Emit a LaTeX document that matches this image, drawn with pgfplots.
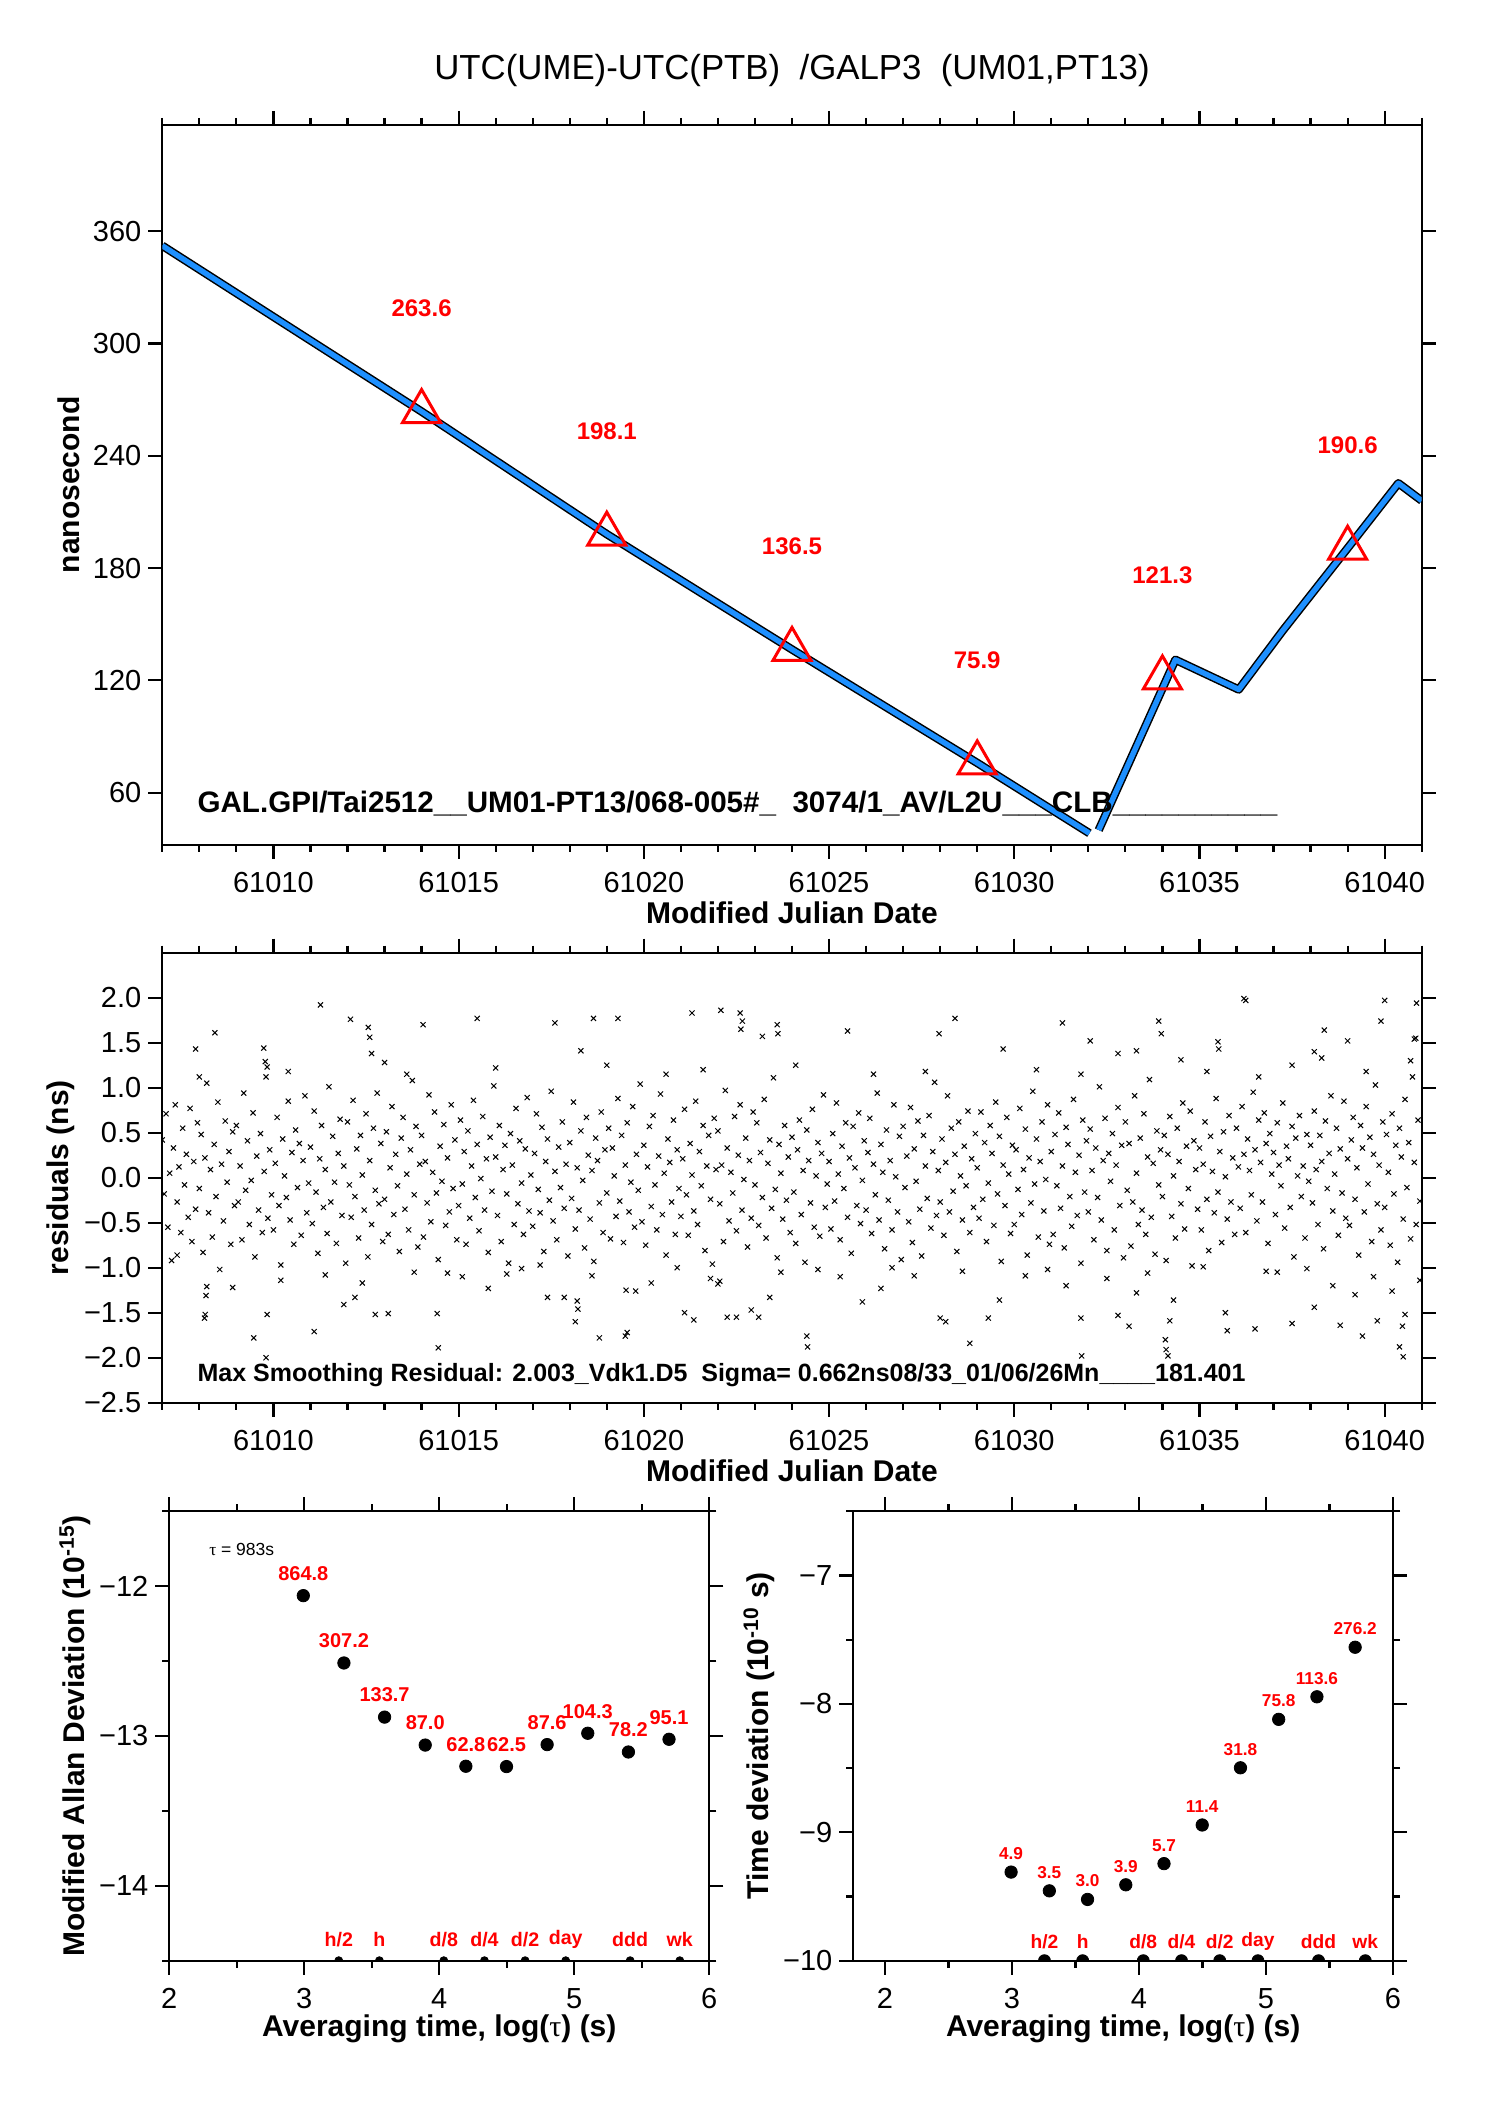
\documentclass[border=0pt]{standalone}
\usepackage{fontspec}
\setmainfont{Liberation Sans}
\newfontfamily\symfont{Liberation Serif}
\usepackage{pgfplots}
\pgfplotsset{compat=1.18}

\definecolor{fitblue}{RGB}{30,144,255}
\definecolor{lblred}{RGB}{255,0,0}

\tikzset{redlbl/.style={lblred, font=\bfseries\fontsize{#1}{#1}\selectfont, anchor=center}}

\pgfplotsset{
  panel/.style={
    scale only axis,
    axis line style={line width=1bp},
    tick align=outside,
    major tick length=7bp,
    minor tick length=3.5bp,
    every tick/.append style={line width=1.1bp, black},
    xticklabel pos=lower,
    yticklabel pos=left,
    scaled ticks=false,
    clip marker paths=true,
    tick label style={font=\fontsize{14.5bp}{17bp}\selectfont},
    xticklabel style={yshift=-3.5bp},
    label style={font=\bfseries\fontsize{15bp}{18bp}\selectfont},
    xlabel style={at={(axis description cs:0.5,0)}, anchor=center, yshift=-34bp},
  },
}

\begin{document}
\begin{tikzpicture}
\path[use as bounding box] (0,0) rectangle (744bp,1052.5bp);

\node[anchor=base, font=\fontsize{17.4bp}{20bp}\selectfont] at (396bp,1012.5bp)
  {UTC(UME)-UTC(PTB)\ \ /GALP3\ \ (UM01,PT13)};

% ---- top: time difference
\begin{axis}[panel,
  at={(81.15bp,630.15bp)}, anchor=south west,
  width=629.7bp, height=359.85bp,
  xmin=61007, xmax=61041, ymin=32.2, ymax=416.7,
  xtick={61010,61015,61020,61025,61030,61035,61040},
  xticklabels={61010,61015,61020,61025,61030,61035,61040},
  minor xtick={61007,61008,61009,61011,61012,61013,61014,61016,61017,61018,61019,61021,61022,61023,61024,61026,61027,61028,61029,61031,61032,61033,61034,61036,61037,61038,61039,61041},
  ytick={60,120,180,240,300,360},
  yticklabels={60,120,180,240,300,360},
  xlabel={Modified Julian Date},
  ylabel={nanosecond},
  ylabel style={at={(axis description cs:-0.0746,0.5)}, anchor=center},
]
\addplot[black, line width=4.2bp, line join=round] coordinates {
  (61007,352.2) (61014,263.6) (61019,198.1) (61024,136.5) (61029,75.9) (61032.03,38.3)};
\addplot[black, line width=4.2bp, line join=round] coordinates {
  (61032.28,40.0) (61034.35,131.0) (61036.06,115.1) (61037.25,146.6) (61039,190.6)
  (61040.37,225.3) (61041,216.0)};
\addplot[fitblue, line width=2.7bp, line join=round] coordinates {
  (61007,352.2) (61014,263.6) (61019,198.1) (61024,136.5) (61029,75.9) (61032.03,38.3)};
\addplot[fitblue, line width=2.7bp, line join=round] coordinates {
  (61032.28,40.0) (61034.35,131.0) (61036.06,115.1) (61037.25,146.6) (61039,190.6)
  (61040.37,225.3) (61041,216.0)};
\addplot[only marks, mark=triangle, mark size=11bp,
  mark options={draw=lblred, line width=1.5bp},
  nodes near coords, point meta=explicit symbolic,
  every node near coord/.append style={redlbl=12bp, yshift=51.5bp}]
  table[meta=lab] {
x y lab
61014 263.6 263.6
61019 198.1 198.1
61024 136.5 136.5
61029 75.9 75.9
61034 121.3 121.3
61039 190.6 190.6
};
\node[anchor=base west, font=\bfseries\fontsize{14.8bp}{17bp}\selectfont] at (rel axis cs:0.0224,0.0449)
  {GAL.GPI/Tai2512\_\_UM01-PT13/068-005\#\_\ \ 3074/1\_AV/L2U\_\_\_CLB\_\_\_\_\_\_\_\_\_\_};
\end{axis}

% ---- middle: residuals
\begin{axis}[panel,
  at={(81.15bp,351.15bp)}, anchor=south west,
  width=629.7bp, height=225bp,
  xmin=61007, xmax=61041, ymin=-2.5, ymax=2.5,
  xtick={61010,61015,61020,61025,61030,61035,61040},
  xticklabels={61010,61015,61020,61025,61030,61035,61040},
  minor xtick={61007,61008,61009,61011,61012,61013,61014,61016,61017,61018,61019,61021,61022,61023,61024,61026,61027,61028,61029,61031,61032,61033,61034,61036,61037,61038,61039,61041},
  ytick={-2.5,-2,-1.5,-1,-0.5,0,0.5,1,1.5,2},
  yticklabels={−2.5,−2.0,−1.5,−1.0,−0.5,0.0,0.5,1.0,1.5,2.0},
  xlabel={Modified Julian Date},
  ylabel={residuals (ns)},
  ylabel style={at={(axis description cs:-0.081,0.5)}, anchor=center},
]
\addplot[only marks, mark=x, mark size=1.8bp, mark options={line width=0.5bp}] table {
x y
61007.00 0.42
61007.05 -0.18
61007.10 0.71
61007.15 -0.55
61007.20 0.05
61007.25 -0.92
61007.30 0.33
61007.35 0.81
61007.40 -0.27
61007.45 0.12
61007.50 -0.61
61007.55 0.55
61007.60 -0.08
61007.65 0.26
61007.70 -0.44
61007.75 0.77
61007.80 -0.71
61007.85 0.18
61007.90 -0.35
61007.95 0.61
61008.00 -0.12
61008.05 0.48
61008.10 -0.83
61008.15 0.22
61008.20 1.05
61008.25 -0.39
61008.30 0.09
61008.35 -0.66
61008.40 0.37
61008.45 -0.21
61008.50 0.84
61008.55 -1.02
61008.60 0.15
61008.65 -0.48
61008.70 0.63
61008.75 -0.05
61008.80 0.29
61008.85 -0.74
61008.90 0.51
61008.95 -0.31
61009.00 0.58
61009.05 -0.27
61009.10 0.13
61009.15 -0.69
61009.20 0.94
61009.25 -0.14
61009.30 0.41
61009.35 -0.52
61009.40 -0.03
61009.45 0.72
61009.50 -0.88
61009.55 0.24
61009.60 -0.36
61009.65 0.49
61009.70 -0.61
61009.75 0.07
61009.80 1.12
61009.85 -0.45
61009.90 0.31
61009.95 -0.19
61010.00 -0.58
61010.05 0.16
61010.10 0.67
61010.15 -0.31
61010.20 -0.97
61010.25 0.43
61010.30 0.02
61010.35 -0.22
61010.40 0.85
61010.45 -0.47
61010.50 0.28
61010.55 -0.74
61010.60 0.53
61010.65 -0.11
61010.70 0.38
61010.75 -0.64
61010.80 0.19
61010.85 0.91
61010.90 -0.39
61010.95 -0.06
61011.00 0.34
61011.05 -0.51
61011.10 0.74
61011.15 -0.16
61011.20 -0.84
61011.25 0.21
61011.30 0.58
61011.35 -0.33
61011.40 0.09
61011.45 -0.62
61011.50 1.01
61011.55 -0.27
61011.60 0.46
61011.65 -0.05
61011.70 -0.73
61011.75 0.27
61011.80 0.65
61011.85 -0.42
61011.90 0.13
61011.95 -0.95
61012.00 0.62
61012.05 -0.08
61012.10 -0.44
61012.15 0.86
61012.20 -0.21
61012.25 0.32
61012.30 -0.67
61012.35 0.47
61012.40 0.03
61012.45 -0.36
61012.50 0.71
61012.55 -0.88
61012.60 0.19
61012.65 -0.52
61012.70 0.55
61012.75 -0.14
61012.80 0.94
61012.85 -0.29
61012.90 0.38
61012.95 -0.71
61013.00 -0.24
61013.05 0.51
61013.10 -0.63
61013.15 0.11
61013.20 0.79
61013.25 -0.41
61013.30 0.26
61013.35 -0.09
61013.40 -0.82
61013.45 0.44
61013.50 0.67
61013.55 -0.35
61013.60 0.04
61013.65 -0.58
61013.70 0.31
61013.75 1.08
61013.80 -0.19
61013.85 0.57
61013.90 -0.77
61013.95 0.15
61014.00 0.47
61014.05 -0.66
61014.10 0.18
61014.15 -0.28
61014.20 0.92
61014.25 -0.49
61014.30 0.06
61014.35 0.73
61014.40 -0.17
61014.45 -0.91
61014.50 0.35
61014.55 -0.04
61014.60 0.59
61014.65 -0.53
61014.70 0.22
61014.75 -0.38
61014.80 0.81
61014.85 -0.12
61014.90 0.42
61014.95 -0.69
61015.00 -0.31
61015.05 0.64
61015.10 -0.07
61015.15 0.29
61015.20 -0.74
61015.25 0.52
61015.30 -0.45
61015.35 0.13
61015.40 0.86
61015.45 -0.22
61015.50 0.37
61015.55 -0.59
61015.60 -0.01
61015.65 0.68
61015.70 -0.36
61015.75 0.21
61015.80 -0.83
61015.85 0.45
61015.90 -0.15
61015.95 1.02
61016.00 0.23
61016.05 -0.42
61016.10 0.58
61016.15 -0.71
61016.20 0.09
61016.25 0.36
61016.30 -0.18
61016.35 -0.95
61016.40 0.49
61016.45 0.14
61016.50 -0.52
61016.55 0.77
61016.60 -0.29
61016.65 0.41
61016.70 -0.06
61016.75 -0.63
61016.80 0.32
61016.85 0.89
61016.90 -0.37
61016.95 0.03
61017.00 -0.54
61017.05 0.27
61017.10 0.71
61017.15 -0.13
61017.20 -0.39
61017.25 0.56
61017.30 -0.82
61017.35 0.18
61017.40 0.43
61017.45 -0.25
61017.50 0.96
61017.55 -0.48
61017.60 0.07
61017.65 -0.69
61017.70 0.34
61017.75 -0.11
61017.80 0.62
61017.85 -0.34
61017.90 0.15
61017.95 -0.87
61018.00 0.39
61018.05 -0.23
61018.10 0.84
61018.15 -0.57
61018.20 0.11
61018.25 -0.36
61018.30 0.52
61018.35 -0.03
61018.40 -0.78
61018.45 0.67
61018.50 0.25
61018.55 -0.46
61018.60 0.08
61018.65 -0.93
61018.70 0.44
61018.75 0.19
61018.80 -0.28
61018.85 0.73
61018.90 -0.61
61018.95 0.31
61019.00 -0.17
61019.05 0.55
61019.10 -0.68
61019.15 0.33
61019.20 0.02
61019.25 -0.43
61019.30 0.88
61019.35 -0.26
61019.40 0.47
61019.45 -0.72
61019.50 0.14
61019.55 0.61
61019.60 -0.38
61019.65 -0.05
61019.70 0.79
61019.75 -0.55
61019.80 0.26
61019.85 -0.14
61019.90 1.04
61019.95 -0.49
61020.00 0.36
61020.05 -0.75
61020.10 0.12
61020.15 0.57
61020.20 -0.32
61020.25 0.69
61020.30 -0.08
61020.35 -0.58
61020.40 0.24
61020.45 0.93
61020.50 -0.41
61020.55 0.05
61020.60 -0.86
61020.65 0.43
61020.70 0.17
61020.75 -0.27
61020.80 0.64
61020.85 -0.63
61020.90 0.31
61020.95 -0.12
61021.00 -0.43
61021.05 0.21
61021.10 0.76
61021.15 -0.19
61021.20 -0.64
61021.25 0.38
61021.30 0.03
61021.35 -0.37
61021.40 0.85
61021.45 -0.52
61021.50 0.29
61021.55 -0.09
61021.60 0.58
61021.65 -0.81
61021.70 0.13
61021.75 0.47
61021.80 -0.24
61021.85 -0.96
61021.90 0.66
61021.95 0.09
61022.00 0.52
61022.05 -0.29
61022.10 0.14
61022.15 -0.71
61022.20 0.97
61022.25 0.33
61022.30 -0.48
61022.35 0.06
61022.40 -0.17
61022.45 0.68
61022.50 -0.59
61022.55 0.25
61022.60 0.81
61022.65 -0.36
61022.70 -0.02
61022.75 0.44
61022.80 -0.77
61022.85 0.19
61022.90 -0.45
61022.95 0.73
61023.00 -0.08
61023.05 0.61
61023.10 -0.53
61023.15 0.28
61023.20 -0.22
61023.25 0.87
61023.30 -0.67
61023.35 0.16
61023.40 0.42
61023.45 -0.34
61023.50 1.11
61023.55 -0.13
61023.60 -0.89
61023.65 0.37
61023.70 0.05
61023.75 -0.46
61023.80 0.58
61023.85 -0.25
61023.90 0.23
61023.95 -0.61
61024.00 0.45
61024.05 -0.16
61024.10 -0.73
61024.15 0.31
61024.20 0.64
61024.25 -0.41
61024.30 0.08
61024.35 -0.94
61024.40 0.53
61024.45 0.19
61024.50 -0.28
61024.55 0.76
61024.60 -0.55
61024.65 0.02
61024.70 0.39
61024.75 -0.65
61024.80 0.27
61024.85 0.92
61024.90 -0.33
61024.95 -0.07
61025.00 0.18
61025.05 -0.57
61025.10 0.49
61025.15 -0.26
61025.20 0.83
61025.25 0.04
61025.30 -0.69
61025.35 0.35
61025.40 -0.12
61025.45 0.61
61025.50 -0.44
61025.55 0.22
61025.60 -0.84
61025.65 0.57
61025.70 0.11
61025.75 -0.31
61025.80 0.72
61025.85 -0.51
61025.90 -0.03
61025.95 0.41
61026.00 -0.36
61026.05 0.28
61026.10 0.66
61026.15 -0.62
61026.20 0.15
61026.25 -0.19
61026.30 0.94
61026.35 -0.47
61026.40 0.37
61026.45 0.06
61026.50 -0.79
61026.55 0.53
61026.60 -0.25
61026.65 0.19
61026.70 -0.58
61026.75 0.81
61026.80 0.01
61026.85 -0.38
61026.90 0.46
61026.95 -0.91
61027.00 0.57
61027.05 -0.11
61027.10 0.24
61027.15 -0.49
61027.20 0.78
61027.25 -0.72
61027.30 0.32
61027.35 -0.04
61027.40 0.63
61027.45 -0.35
61027.50 -0.87
61027.55 0.47
61027.60 0.13
61027.65 -0.23
61027.70 0.69
61027.75 -0.56
61027.80 0.29
61027.85 1.06
61027.90 -0.42
61027.95 0.08
61028.00 -0.27
61028.05 0.43
61028.10 -0.64
61028.15 0.17
61028.20 0.91
61028.25 -0.38
61028.30 0.55
61028.35 -0.15
61028.40 0.26
61028.45 -0.82
61028.50 0.62
61028.55 0.02
61028.60 -0.47
61028.65 0.35
61028.70 -0.09
61028.75 0.74
61028.80 -0.61
61028.85 0.21
61028.90 -0.33
61028.95 0.49
61029.00 0.11
61029.05 -0.45
61029.10 0.73
61029.15 -0.24
61029.20 0.39
61029.25 -0.71
61029.30 -0.06
61029.35 0.58
61029.40 0.27
61029.45 -0.53
61029.50 0.84
61029.55 -0.18
61029.60 0.46
61029.65 -0.93
61029.70 0.14
61029.75 -0.31
61029.80 0.67
61029.85 0.04
61029.90 -0.62
61029.95 0.36
61030.00 -0.52
61030.05 0.31
61030.10 -0.13
61030.15 0.77
61030.20 -0.41
61030.25 0.09
61030.30 0.54
61030.35 -0.86
61030.40 0.22
61030.45 -0.28
61030.50 0.96
61030.55 -0.07
61030.60 0.43
61030.65 -0.66
61030.70 0.18
61030.75 0.62
61030.80 -0.37
61030.85 -0.02
61030.90 0.81
61030.95 -0.74
61031.00 0.29
61031.05 -0.63
61031.10 0.48
61031.15 -0.09
61031.20 0.72
61031.25 -0.34
61031.30 0.13
61031.35 -0.78
61031.40 0.56
61031.45 0.37
61031.50 -0.21
61031.55 -0.54
61031.60 0.87
61031.65 0.06
61031.70 -0.42
61031.75 0.25
61031.80 -0.95
61031.85 0.64
61031.90 -0.16
61031.95 0.41
61032.00 -0.38
61032.05 0.54
61032.10 0.08
61032.15 -0.69
61032.20 0.33
61032.25 -0.22
61032.30 1.01
61032.35 -0.47
61032.40 0.19
61032.45 0.66
61032.50 -0.81
61032.55 0.27
61032.60 -0.04
61032.65 0.49
61032.70 -0.58
61032.75 0.14
61032.80 0.78
61032.85 -0.31
61032.90 0.36
61032.95 -0.89
61033.00 0.62
61033.05 -0.14
61033.10 0.38
61033.15 -0.76
61033.20 -0.27
61033.25 0.91
61033.30 0.05
61033.35 -0.52
61033.40 0.44
61033.45 -0.36
61033.50 0.71
61033.55 -0.63
61033.60 0.23
61033.65 1.09
61033.70 -0.44
61033.75 0.16
61033.80 -0.85
61033.85 0.52
61033.90 -0.08
61033.95 0.31
61034.00 -0.21
61034.05 0.47
61034.10 -0.92
61034.15 0.26
61034.20 0.68
61034.25 -0.43
61034.30 0.02
61034.35 -0.67
61034.40 0.55
61034.45 0.18
61034.50 -0.29
61034.55 0.83
61034.60 -0.57
61034.65 0.35
61034.70 -0.12
61034.75 0.74
61034.80 -0.98
61034.85 0.41
61034.90 0.09
61034.95 -0.35
61035.00 0.33
61035.05 -0.58
61035.10 0.15
61035.15 0.62
61035.20 -0.24
61035.25 -0.81
61035.30 0.46
61035.35 0.07
61035.40 -0.39
61035.45 0.88
61035.50 -0.16
61035.55 0.29
61035.60 -0.72
61035.65 0.51
61035.70 0.01
61035.75 -0.46
61035.80 0.69
61035.85 -0.27
61035.90 0.22
61035.95 -0.63
61036.00 0.55
61036.05 0.12
61036.10 -0.34
61036.15 0.79
61036.20 0.26
61036.25 -0.61
61036.30 0.43
61036.35 0.08
61036.40 -0.19
61036.45 0.95
61036.50 0.31
61036.55 -0.48
61036.60 0.64
61036.65 0.17
61036.70 -0.27
61036.75 0.72
61036.80 0.38
61036.85 -0.73
61036.90 0.49
61036.95 0.04
61037.00 0.28
61037.05 -0.41
61037.10 0.61
61037.15 0.14
61037.20 -0.09
61037.25 0.83
61037.30 -0.56
61037.35 0.35
61037.40 0.21
61037.45 -0.33
61037.50 0.57
61037.55 -0.88
61037.60 0.44
61037.65 0.02
61037.70 0.69
61037.75 -0.21
61037.80 0.13
61037.85 -0.67
61037.90 0.48
61037.95 -0.04
61038.00 0.36
61038.05 -0.28
61038.10 0.74
61038.15 0.09
61038.20 -0.52
61038.25 0.47
61038.30 0.18
61038.35 -0.79
61038.40 0.63
61038.45 -0.12
61038.50 0.27
61038.55 0.91
61038.60 -0.37
61038.65 0.04
61038.70 0.55
61038.75 -0.64
61038.80 0.32
61038.85 -0.17
61038.90 0.85
61038.95 -0.45
61039.00 0.21
61039.05 -0.53
61039.10 0.42
61039.15 0.67
61039.20 -0.24
61039.25 0.11
61039.30 -0.86
61039.35 0.58
61039.40 0.33
61039.45 -0.38
61039.50 0.79
61039.55 -0.07
61039.60 0.45
61039.65 -0.71
61039.70 0.26
61039.75 1.03
61039.80 -0.29
61039.85 0.14
61039.90 -0.58
61039.95 0.62
61040.00 -0.33
61040.05 0.48
61040.10 0.06
61040.15 -0.75
61040.20 0.71
61040.25 -0.18
61040.30 0.36
61040.35 -0.94
61040.40 0.55
61040.45 0.23
61040.50 -0.46
61040.55 0.87
61040.60 -0.11
61040.65 0.39
61040.70 -0.68
61040.75 1.12
61040.80 0.17
61040.85 -0.52
61040.90 0.64
61040.95 -0.26
61007.90 1.43
61008.42 1.61
61009.74 1.44
61009.78 1.29
61009.83 1.23
61011.27 1.92
61012.08 1.76
61012.56 1.67
61012.60 1.56
61012.65 1.38
61014.04 1.70
61015.50 1.77
61017.60 1.72
61018.64 1.77
61019.30 1.77
61021.30 1.83
61022.08 1.86
61022.60 1.83
61022.62 1.65
61022.66 1.74
61023.20 1.57
61023.60 1.70
61023.62 1.60
61025.50 1.63
61028.40 1.77
61027.97 1.60
61031.30 1.72
61032.05 1.52
61033.90 1.74
61033.97 1.60
61036.20 1.99
61036.25 1.97
61035.50 1.51
61035.52 1.43
61038.37 1.64
61039.00 1.52
61039.90 1.74
61040.00 1.97
61040.86 1.94
61040.80 1.54
61040.84 1.55
61038.10 1.40
61008.00 1.12
61010.40 1.18
61013.00 1.28
61013.60 1.15
61016.00 1.22
61018.30 1.41
61019.00 1.25
61020.60 1.15
61021.60 1.20
61024.10 1.25
61026.20 1.15
61027.60 1.18
61029.70 1.43
61030.60 1.20
61031.80 1.15
61032.80 1.38
61033.30 1.41
61034.50 1.31
61035.20 1.18
61036.60 1.12
61037.50 1.25
61038.30 1.33
61039.50 1.18
61040.70 1.30
61009.80 -2.00
61009.47 -1.78
61009.83 -1.52
61008.16 -1.52
61008.14 -1.56
61008.20 -1.21
61008.18 -1.31
61011.10 -1.71
61011.90 -1.41
61012.20 -1.33
61012.75 -1.52
61013.10 -1.51
61014.45 -1.89
61014.42 -1.51
61015.10 -1.10
61015.80 -1.23
61017.40 -1.33
61017.85 -1.33
61018.20 -1.37
61018.15 -1.60
61018.22 -1.46
61018.80 -1.78
61019.50 -1.76
61019.55 -1.72
61019.52 -1.25
61019.78 -1.26
61021.10 -1.50
61021.35 -1.58
61022.00 -1.18
61022.05 -1.15
61022.25 -1.55
61022.50 -1.55
61022.90 -1.47
61023.10 -1.55
61024.40 -1.76
61024.42 -1.88
61025.90 -1.38
61026.40 -1.23
61028.00 -1.56
61028.15 -1.60
61028.80 -1.84
61029.30 -1.56
61031.80 -1.56
61031.82 -1.98
61032.80 -1.53
61033.10 -1.65
61034.10 -1.91
61034.15 -1.98
61034.08 -1.80
61034.30 -1.36
61034.20 -1.59
61035.70 -1.50
61035.75 -1.70
61036.50 -1.68
61037.50 -1.62
61038.10 -1.44
61038.80 -1.64
61039.40 -1.76
61039.80 -1.59
61040.40 -1.88
61040.50 -1.99
61040.48 -1.65
61040.55 -1.52
61040.95 -1.14
61007.40 -0.86
61008.90 -1.22
61010.20 -1.14
61011.40 -1.08
61012.40 -1.17
61013.80 -1.05
61014.70 -1.06
61016.30 -1.07
61016.70 -1.01
61017.20 -0.97
61018.60 -1.09
61020.20 -1.17
61020.90 -1.00
61021.80 -1.12
61023.40 -1.33
61023.70 -1.05
61024.70 -1.02
61025.30 -1.10
61026.70 -1.00
61027.30 -1.09
61028.60 -1.04
61029.60 -1.36
61030.30 -1.09
61030.90 -1.02
61031.40 -1.20
61032.50 -1.12
61033.30 -1.28
61033.60 -1.06
61035.10 -0.99
61036.80 -1.04
61037.10 -1.05
61037.90 -1.01
61038.60 -1.20
61039.20 -1.30
61039.70 -1.10
61040.20 -1.26
};
\node[anchor=base west, font=\bfseries\fontsize{12.5bp}{15bp}\selectfont] at (rel axis cs:0.0224,0.048)
  {Max Smoothing Residual: 2.003\_Vdk1.D5\ \ Sigma= 0.662ns08/33\_01/06/26Mn\_\_\_\_181.401};
\end{axis}

% ---- bottom left: modified Allan deviation
\begin{axis}[panel,
  at={(84.65bp,72.15bp)}, anchor=south west,
  width=270bp, height=224.7bp,
  xmin=2, xmax=6, ymin=-14.5, ymax=-11.5,
  xtick={2,3,4,5,6}, xticklabels={2,3,4,5,6},
  minor xtick={2.5,3.5,4.5,5.5},
  ytick={-14,-13,-12}, yticklabels={−14,−13,−12},
  minor ytick={-14.5,-13.5,-12.5,-11.5},
  xlabel={Averaging time, log({\symfont\mdseries τ}) (s)},
  ylabel={Modified Allan Deviation (10\textsuperscript{-15})},
  ylabel style={at={(axis description cs:-0.1746,0.5)}, anchor=center},
]
\addplot[only marks, mark=*, mark size=3.1bp, black,
  nodes near coords, point meta=explicit symbolic,
  every node near coord/.append style={redlbl=10bp, yshift=11bp}]
  table[meta=lab] {
x y lab
2.9926 -12.0631 864.8
3.2936 -12.5126 307.2
3.5946 -12.8739 133.7
3.8957 -13.0605 87.0
4.1967 -13.2020 62.8
4.4977 -13.2041 62.5
4.7987 -13.0575 87.6
5.0998 -12.9817 104.3
5.4008 -13.1068 78.2
5.7018 -13.0218 95.1
};
\addplot[only marks, mark=*, mark size=2bp, black,
  nodes near coords, point meta=explicit symbolic,
  every node near coord/.append style={redlbl=9.8bp, yshift=10.5bp}]
  table[meta=lab] {
x y lab
3.2553 -14.5 h/2
3.5563 -14.5 h
4.0334 -14.5 d/8
4.3345 -14.5 d/4
4.6355 -14.5 d/2
4.9365 -14.5 day
5.4136 -14.5 ddd
5.7816 -14.5 wk
};
\node[anchor=west, font=\fontsize{8.75bp}{10bp}\selectfont] at (axis description cs:0.061,0.916)
  {{\symfont τ} = 983s};
\end{axis}

% ---- bottom right: time deviation
\begin{axis}[panel,
  at={(426.65bp,72.15bp)}, anchor=south west,
  width=269.85bp, height=224.7bp,
  xmin=1.75, xmax=6, ymin=-10, ymax=-6.5,
  xtick={2,3,4,5,6}, xticklabels={2,3,4,5,6},
  minor xtick={2.5,3.5,4.5,5.5},
  ytick={-10,-9,-8,-7}, yticklabels={−10,−9,−8,−7},
  minor ytick={-9.5,-8.5,-7.5,-6.5},
  xlabel={Averaging time, log({\symfont\mdseries τ}) (s)},
  ylabel={Time deviation (10\textsuperscript{-10} s)},
  ylabel style={at={(axis description cs:-0.1747,0.5)}, anchor=center},
]
\addplot[only marks, mark=*, mark size=3.1bp, black,
  nodes near coords, point meta=explicit symbolic,
  every node near coord/.append style={redlbl=8.6bp, yshift=9.2bp}]
  table[meta=lab] {
x y lab
2.9926 -9.3098 4.9
3.2936 -9.4559 3.5
3.5946 -9.5229 3.0
3.8957 -9.4089 3.9
4.1967 -9.2441 5.7
4.4977 -8.9431 11.4
4.7987 -8.4976 31.8
5.0998 -8.1203 75.8
5.4008 -7.9446 113.6
5.7018 -7.5588 276.2
};
\addplot[only marks, mark=*, mark size=3bp, black,
  nodes near coords, point meta=explicit symbolic,
  every node near coord/.append style={redlbl=9.6bp, yshift=9.5bp}]
  table[meta=lab] {
x y lab
3.2553 -10 h/2
3.5563 -10 h
4.0334 -10 d/8
4.3345 -10 d/4
4.6355 -10 d/2
4.9365 -10 day
5.4136 -10 ddd
5.7816 -10 wk
};
\end{axis}
\end{tikzpicture}
\end{document}
